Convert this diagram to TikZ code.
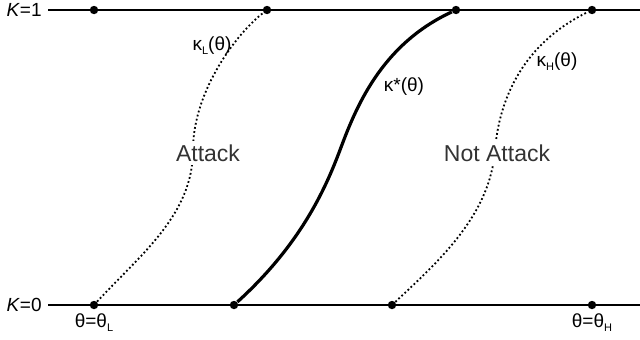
\documentclass[tikz,border=0pt]{standalone}
\usepackage{fontspec}
\setmainfont{Liberation Sans}
\usetikzlibrary{positioning}
\newcommand{\lowsub}[1]{\raisebox{-0.35ex}{\fontsize{5.5}{6}\selectfont #1}}

\begin{document}
\begin{tikzpicture}[x=0.5pt, y=-0.5pt,
		pt/.style={circle, fill, inner sep=0pt, minimum size=4.2pt},
		lvl/.style={line width=0.9pt},
		bnd/.style={line width=0.9pt, dash pattern=on 0.9pt off 1.2pt},
		eqm/.style={line width=1.6pt},
		lab/.style={font=\fontsize{9.5}{11}\selectfont, inner sep=1pt},
		reg/.style={font=\fontsize{11.5}{13}\selectfont, fill=white, text=black!80, inner sep=2pt}]
		\useasboundingbox (0,0) rectangle (640,339);
		% 两条水平线
		\coordinate (top0) at (48,10);
		\coordinate (top1) at (640,10);
		\coordinate (bot0) at (48,305);
		\coordinate (bot1) at (640,305);
		\draw[lvl] (top0) -- (top1);
		\draw[lvl] (bot0) -- (bot1);
		\node[lab, left=2pt of top0] (k1) {\textit{K}=1};
		\node[lab, left=2pt of bot0] (k0) {\textit{K}=0};
		% 端点
		\node[pt] (t1) at (94,10) {};
		\node[pt] (t2) at (267,10) {};
		\node[pt] (t3) at (456,10) {};
		\node[pt] (t4) at (592,10) {};
		\node[pt] (b1) at (94,305) {};
		\node[pt] (b2) at (234,305) {};
		\node[pt] (b3) at (392,305) {};
		\node[pt] (b4) at (592,305) {};
		% 曲线
		\coordinate (lmid) at (193,150);
		\coordinate (smid) at (340,150);
		\coordinate (hmid) at (495,150);
		\draw[bnd] (b1) .. controls (140,255) and (193,215) .. (lmid)
			.. controls (193,90) and (238,32) .. (t2);
		\draw[eqm] (b2) .. controls (300,245) and (325,190) .. (smid)
			.. controls (355,110) and (380,45) .. (t3);
		\draw[bnd] (b3) .. controls (440,260) and (490,215) .. (hmid)
			.. controls (500,90) and (530,40) .. (t4);
		% 标签
		\node[reg] (att) at (208,153) {Attack};
		\node[reg] (natt) at (497,153) {Not Attack};
		\node[lab] (kl) at (212,46) {κ\lowsub{L}(θ)};
		\node[lab] (ks) at (404,87) {κ*(θ)};
		\node[lab] (kh) at (557,62) {κ\lowsub{H}(θ)};
		\node[lab, below=1pt of b1] (thl) {θ=θ\lowsub{L}};
		\node[lab, below=1pt of b4] (thh) {θ=θ\lowsub{H}};
	\end{tikzpicture}
\end{document}
